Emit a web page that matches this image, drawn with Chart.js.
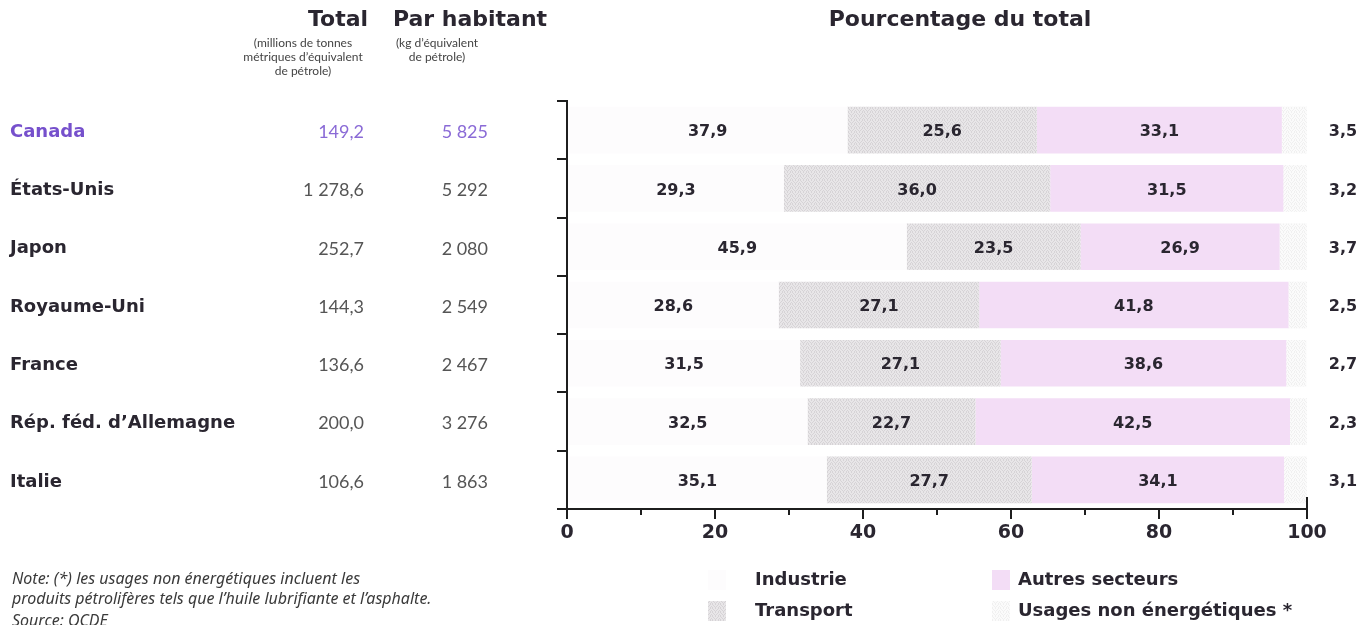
<!DOCTYPE html>
<html lang="fr">
<head>
<meta charset="utf-8">
<title>Consommation de pétrole par secteur</title>
<script src="https://cdn.jsdelivr.net/npm/chart.js@4.4.1/dist/chart.umd.min.js"></script>
<style>
  html, body { margin: 0; padding: 0; background: #fff; }
  #chart { display: block; }
</style>
</head>
<body>
<canvas id="chart" width="1363" height="625"></canvas>
<script>
// Pays et consommation totale / par habitant
const countries = ['Canada', 'États-Unis', 'Japon', 'Royaume-Uni', 'France', 'Rép. féd. d\u2019Allemagne', 'Italie'];
const totals = [149.2, 1278.6, 252.7, 144.3, 136.6, 200.0, 106.6];
const perCapita = [5825, 5292, 2080, 2549, 2467, 3276, 1863];

// Répartition par secteur, en pourcentage du total
const industrie = [37.9, 29.3, 45.9, 28.6, 31.5, 32.5, 35.1];
const transport = [25.6, 36.0, 23.5, 27.1, 27.1, 22.7, 27.7];
const autres = [33.1, 31.5, 26.9, 41.8, 38.6, 42.5, 34.1];
const nonEnergie = [3.5, 3.2, 3.7, 2.5, 2.7, 2.3, 3.1];

const sectorNames = ['Industrie', 'Transport', 'Autres secteurs', 'Usages non énergétiques *'];
const xMajor = [0, 20, 40, 60, 80, 100];
const xMinor = [10, 30, 50, 70, 90];

const BOLD = '"DejaVu Sans", Verdana, sans-serif';
const BOOK = 'Lato, "Noto Sans", sans-serif';
const INK = '#2a2630';
const PURPLE = '#7650cc';

// 1 278,6 style number formatting
function fmt(v, decimals) {
  const parts = v.toFixed(decimals).split('.');
  parts[0] = parts[0].replace(/\B(?=(\d{3})+(?!\d))/g, ' ');
  return parts.join(',');
}

const canvas = document.getElementById('chart');
const ctx = canvas.getContext('2d');

// light stipple used for the screened segments
function stipple(base, dot) {
  const c = document.createElement('canvas');
  c.width = 8; c.height = 4;
  const g = c.getContext('2d');
  g.fillStyle = base;
  g.fillRect(0, 0, 8, 4);
  g.fillStyle = dot;
  [[0, 0], [3, 0], [6, 0], [1, 1], [5, 1], [2, 2], [4, 2], [7, 2], [0, 3], [3, 3], [6, 3]]
    .forEach(([x, y]) => g.fillRect(x, y, 1, 1));
  return ctx.createPattern(c, 'repeat');
}

const colors = ['#fdfcfd', stipple('#e8e6e8', '#d6d3d6'), '#f3ddf6', stipple('#fbfbfb', '#f0f0f0')];

function text(c, str, x, y, font, color, align) {
  c.font = font;
  c.fillStyle = color;
  c.textAlign = align || 'left';
  c.textBaseline = 'middle';
  c.fillText(str, x, y);
}

const decor = {
  id: 'decor',
  beforeDraw(chart) {
    const c = chart.ctx;
    c.save();
    c.fillStyle = '#fff';
    c.fillRect(0, 0, chart.width, chart.height);
    c.restore();
  },
  afterDraw(chart) {
    const c = chart.ctx;
    const xs = chart.scales.x;
    const ys = chart.scales.y;
    const area = chart.chartArea;
    c.save();

    // column headings
    text(c, 'Total', 338, 20, `bold 22px ${BOLD}`, INK, 'center');
    text(c, 'Par habitant', 470, 20, `bold 22px ${BOLD}`, INK, 'center');
    text(c, 'Pourcentage du total', 960, 20, `bold 22px ${BOLD}`, INK, 'center');
    const sub = `12px ${BOOK}`;
    ['(millions de tonnes', 'métriques d\u2019équivalent', 'de pétrole)'].forEach((s, i) =>
      text(c, s, 303, 43 + i * 14, sub, '#444', 'center'));
    ['(kg d\u2019équivalent', 'de pétrole)'].forEach((s, i) =>
      text(c, s, 437, 43 + i * 14, sub, '#444', 'center'));

    // table rows, aligned with the bars
    countries.forEach((name, i) => {
      const y = ys.getPixelForValue(i) + 2;
      const first = i === 0;
      text(c, name, 10, y, `bold 18px ${BOLD}`, first ? PURPLE : INK, 'left');
      text(c, fmt(totals[i], 1), 364, y, `18px ${BOOK}`, first ? '#8a6ad6' : '#555', 'right');
      text(c, fmt(perCapita[i], 0), 488, y, `18px ${BOOK}`, first ? '#8a6ad6' : '#555', 'right');
    });

    // value labels on the segments
    chart.data.datasets.forEach((ds, di) => {
      const meta = chart.getDatasetMeta(di);
      meta.data.forEach((bar, i) => {
        const x = di === 3 ? area.right + 36 : (bar.x + bar.base) / 2;
        text(c, fmt(ds.data[i], 1), x, bar.y + 2, `bold 16px ${BOLD}`, INK, 'center');
      });
    });

    // minor ticks and closing tick of the x axis
    c.strokeStyle = '#1e1e1e';
    c.lineWidth = 2;
    c.beginPath();
    xMinor.forEach(v => {
      const px = Math.round(xs.getPixelForValue(v));
      c.moveTo(px, area.bottom);
      c.lineTo(px, area.bottom + 6);
    });
    const end = Math.round(xs.getPixelForValue(100));
    c.moveTo(end, area.bottom);
    c.lineTo(end, area.bottom - 12);
    c.stroke();

    // legend
    const lg = [
      { x: 708, y: 580 }, { x: 708, y: 611 },
      { x: 992, y: 580 }, { x: 992, y: 611 }
    ];
    lg.forEach((p, i) => {
      c.fillStyle = colors[i];
      c.fillRect(p.x, p.y - 10, 18, 20);
      text(c, sectorNames[i], p.x + (i < 2 ? 47 : 26), p.y, `bold 18px ${BOLD}`, INK, 'left');
    });

    // note and source
    const note = `italic 16px "Noto Sans", sans-serif`;
    text(c, 'Note: (*) les usages non énergétiques incluent les', 12, 579, note, '#3a3a3a');
    text(c, 'produits pétrolifères tels que l\u2019huile lubrifiante et l\u2019asphalte.', 12, 599, note, '#3a3a3a');
    text(c, 'Source: OCDE', 12, 621, note, '#3a3a3a');

    c.restore();
  }
};

new Chart(ctx, {
  type: 'bar',
  data: {
    labels: countries,
    datasets: [
      { label: sectorNames[0], data: industrie, backgroundColor: colors[0] },
      { label: sectorNames[1], data: transport, backgroundColor: colors[1] },
      { label: sectorNames[2], data: autres, backgroundColor: colors[2] },
      { label: sectorNames[3], data: nonEnergie, backgroundColor: colors[3] }
    ]
  },
  options: {
    indexAxis: 'y',
    responsive: false,
    animation: false,
    layout: { padding: { left: 557, right: 56, top: 101, bottom: 86 } },
    datasets: { bar: { barPercentage: 0.8, categoryPercentage: 1, borderWidth: 0 } },
    plugins: { legend: { display: false }, tooltip: { enabled: false } },
    scales: {
      x: {
        stacked: true,
        min: 0,
        max: 100,
        border: { display: true, color: '#1e1e1e', width: 2 },
        grid: { drawOnChartArea: false, drawTicks: true, tickLength: 10, color: '#1e1e1e', lineWidth: 2 },
        ticks: {
          stepSize: 20,
          padding: 3,
          color: INK,
          font: { family: BOLD, weight: 'bold', size: 19 },
          callback: v => (xMajor.includes(v) ? String(v) : '')
        },
        afterFit: s => { s.height = 30; }
      },
      y: {
        stacked: true,
        offset: true,
        border: { display: true, color: '#1e1e1e', width: 2 },
        grid: { offset: true, drawOnChartArea: false, drawTicks: true, tickLength: 10, color: '#1e1e1e', lineWidth: 2 },
        ticks: { display: false },
        afterFit: s => { s.width = 10; }
      }
    }
  },
  plugins: [decor]
});
</script>
</body>
</html>
